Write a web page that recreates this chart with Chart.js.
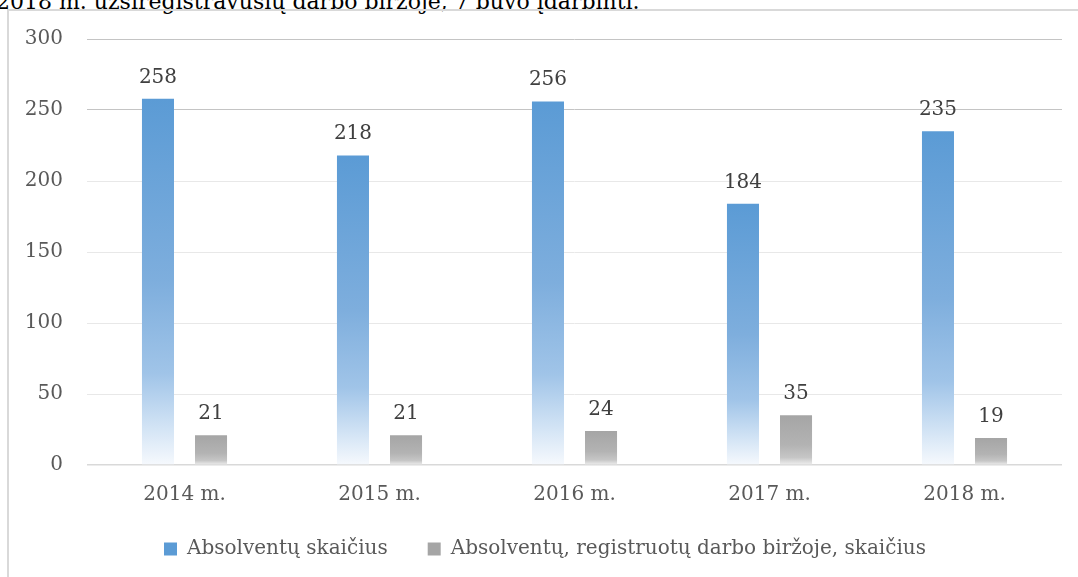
<!DOCTYPE html>
<html>
<head>
<meta charset="utf-8">
<script src="https://cdn.jsdelivr.net/npm/chart.js@4/dist/chart.umd.min.js"></script>
<style>
  html, body { margin: 0; padding: 0; background: #fff; overflow: hidden; }
  #page { position: relative; width: 1078px; height: 577px; overflow: hidden; }
  #intro {
    position: absolute; left: -4px; top: -11px; white-space: nowrap;
    font-family: "DejaVu Serif", serif; font-size: 22px; color: #000;
  }
  #frame {
    position: absolute; left: 7px; top: 9px; width: 1200px; height: 700px;
    border-left: 2px solid #d9d9d9; border-top: 2px solid #d9d9d9;
  }
  #wrap { position: absolute; left: 0; top: 0; width: 1078px; height: 577px; }
</style>
</head>
<body>
<div id="page">
  <div id="intro">2018 m. užsiregistravusių darbo biržoje, 7 buvo įdarbinti.</div>
  <div id="frame"></div>
  <div id="wrap"><canvas id="barChart"></canvas></div>
</div>
<script>
const categories = ["2014 m.", "2015 m.", "2016 m.", "2017 m.", "2018 m."];
const graduates = [258, 218, 256, 184, 235];
const registered = [21, 21, 24, 35, 19];
const seriesNames = ["Absolventų skaičius", "Absolventų, registruotų darbo biržoje, skaičius"];
const yMax = 300;
const yStep = 50;

const blueStops = [[0, "#5b9bd5"], [0.5, "#7eaedd"], [0.75, "#a0c4e8"], [0.9, "#d3e4f5"], [1, "#f6f9fd"]];
const grayStops = [[0, "#a5a5a5"], [0.6, "#b3b3b3"], [0.85, "#c6c6c6"], [1, "#efefef"]];
const solidColors = ["#5b9bd5", "#a5a5a5"];

function barGradient(stops) {
    return function (context) {
        const chart = context.chart;
        if (context.type !== "data" || !chart.chartArea || !chart.scales.y) {
            return stops[0][1];
        }
        const y = chart.scales.y;
        const top = y.getPixelForValue(context.raw);
        const bottom = y.getPixelForValue(0);
        const g = chart.ctx.createLinearGradient(0, top, 0, bottom);
        stops.forEach(s => g.addColorStop(s[0], s[1]));
        return g;
    };
}

// numbers above the bars
const valueLabels = {
    id: "valueLabels",
    afterDatasetsDraw(chart) {
        const ctx = chart.ctx;
        ctx.save();
        ctx.font = "20px 'DejaVu Serif'";
        ctx.fillStyle = "#404040";
        ctx.textAlign = "center";
        ctx.textBaseline = "alphabetic";
        chart.data.datasets.forEach((ds, i) => {
            const meta = chart.getDatasetMeta(i);
            meta.data.forEach((bar, j) => {
                ctx.fillText(ds.data[j], bar.x, bar.y - 16);
            });
        });
        ctx.restore();
    }
};

// legend sits a bit right of the canvas centre in the original
const legendShift = {
    id: "legendShift",
    afterLayout(chart) {
        if (chart.legend) {
            chart.legend.left += 14;
            chart.legend.right += 14;
        }
    }
};

new Chart(document.getElementById("barChart"), {
    type: "bar",
    data: {
        labels: categories,
        datasets: [
            {
                label: seriesNames[0],
                data: graduates,
                backgroundColor: barGradient(blueStops),
                categoryPercentage: 0.544,
                barPercentage: 0.604
            },
            {
                label: seriesNames[1],
                data: registered,
                backgroundColor: barGradient(grayStops),
                categoryPercentage: 0.544,
                barPercentage: 0.604
            }
        ]
    },
    options: {
        responsive: true,
        maintainAspectRatio: false,
        animation: false,
        layout: {
            padding: { left: 0, right: 16, top: 39, bottom: 8 }
        },
        plugins: {
            legend: {
                position: "bottom",
                labels: {
                    boxWidth: 13,
                    boxHeight: 13,
                    padding: 10,
                    color: "#595959",
                    font: { family: "DejaVu Serif", size: 20 },
                    generateLabels(chart) {
                        return chart.data.datasets.map((ds, i) => ({
                            text: i === 0 ? ds.label + "\u2002\u2002\u2002" : ds.label,
                            fillStyle: solidColors[i],
                            strokeStyle: solidColors[i],
                            lineWidth: 0,
                            fontColor: "#595959",
                            datasetIndex: i
                        }));
                    }
                }
            },
            tooltip: { enabled: false }
        },
        scales: {
            x: {
                grid: { display: false },
                border: { display: false },
                ticks: {
                    color: "#595959",
                    padding: 10,
                    font: { family: "DejaVu Serif", size: 20 }
                },
                afterFit(scale) { scale.height = 64; }
            },
            y: {
                min: 0,
                max: yMax,
                border: { display: false },
                grid: {
                    drawTicks: false,
                    color(ctx) {
                        const v = ctx.tick ? ctx.tick.value : 0;
                        if (v === 0) return "#d9d9d9";
                        if (v >= 250) return "#c4c4c4";
                        return "#e8e8e8";
                    },
                    lineWidth(ctx) {
                        return ctx.tick && ctx.tick.value === 0 ? 1.5 : 1;
                    }
                },
                ticks: {
                    stepSize: yStep,
                    color: "#595959",
                    padding: 24,
                    font: { family: "DejaVu Serif", size: 20 }
                },
                afterFit(scale) { scale.width = 87; }
            }
        }
    },
    plugins: [valueLabels, legendShift]
});
</script>
</body>
</html>
